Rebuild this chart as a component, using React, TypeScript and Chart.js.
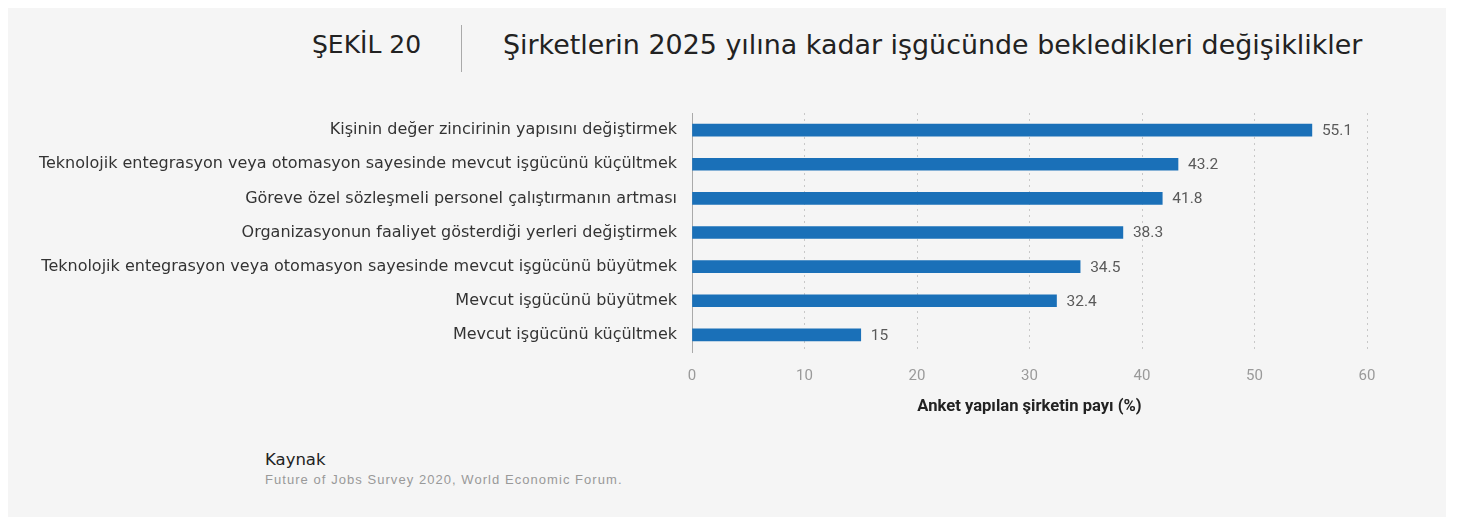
import React, { useEffect, useRef } from "react";
import { Chart, registerables } from "chart.js";

Chart.register(...registerables);

const categories: string[] = [
  "Kişinin değer zincirinin yapısını değiştirmek",
  "Teknolojik entegrasyon veya otomasyon sayesinde mevcut işgücünü küçültmek",
  "Göreve özel sözleşmeli personel çalıştırmanın artması",
  "Organizasyonun faaliyet gösterdiği yerleri değiştirmek",
  "Teknolojik entegrasyon veya otomasyon sayesinde mevcut işgücünü büyütmek",
  "Mevcut işgücünü büyütmek",
  "Mevcut işgücünü küçültmek",
];
const values: number[] = [55.1, 43.2, 41.8, 38.3, 34.5, 32.4, 15];
const xTicks: number[] = [0, 10, 20, 30, 40, 50, 60];
const axisTitle = "Anket yapılan şirketin payı (%)";
const figureLabel = "ŞEKİL 20";
const figureTitle = "Şirketlerin 2025 yılına kadar işgücünde bekledikleri değişiklikler";
const sourceHeading = "Kaynak";
const sourceText = "Future of Jobs Survey 2020, World Economic Forum.";

const CANVAS_LEFT = 14;
const CANVAS_TOP = 100;
const CANVAS_W = 1383;
const CANVAS_H = 330;

const valueLabelPlugin = {
  id: "valueLabels",
  afterDatasetsDraw(chart: any) {
    const ctx = chart.ctx;
    const meta = chart.getDatasetMeta(0);
    ctx.save();
    ctx.fillStyle = "#5a5a5a";
    ctx.font = "15.5px Roboto";
    ctx.textAlign = "left";
    ctx.textBaseline = "middle";
    meta.data.forEach((bar: any, i: number) => {
      ctx.fillText(String(values[i]), bar.x + 10, bar.y + 1);
    });
    ctx.restore();
  },
};

export default function App() {
  const ref = useRef<HTMLCanvasElement | null>(null);
  useEffect(() => {
    if (!ref.current) return;
    const chart = new Chart(ref.current, {
      type: "bar",
      data: {
        labels: categories,
        datasets: [
          {
            data: values,
            backgroundColor: "#1a70b8",
            borderWidth: 0,
            barThickness: 12,
          },
        ],
      },
      options: {
        indexAxis: "y",
        animation: false,
        responsive: false,
        maintainAspectRatio: false,
        layout: { padding: { left: 0, right: 30, top: 13, bottom: 0 } },
        plugins: { legend: { display: false }, tooltip: { enabled: false } },
        scales: {
          x: {
            min: 0,
            max: 60,
            afterBuildTicks: (scale: any) => {
              scale.ticks = xTicks.map((v) => ({ value: v }));
            },
            afterFit: (scale: any) => {
              scale.height = 78;
            },
            grid: {
              display: true,
              color: "#c8c8c8",
              lineWidth: 1,
              drawTicks: false,
            },
            border: { display: false, dash: [2, 4] },
            ticks: {
              color: "#9a9a9a",
              font: { family: "Roboto", size: 15 },
              padding: 15,
            },
            title: {
              display: true,
              text: axisTitle,
              color: "#222",
              font: { family: "Roboto", size: 16.6, weight: "bold" },
              padding: { top: 0, bottom: 13 },
            },
          },
          y: {
            afterFit: (scale: any) => {
              scale.width = 692 - CANVAS_LEFT;
              scale.paddingTop = 0;
              scale.paddingBottom = 0;
            },
            grid: { display: false, drawTicks: false },
            border: { display: true, color: "#aaa", width: 1 },
            ticks: {
              color: "#333",
              font: { family: "DejaVu Sans", size: 16 },
              padding: 15,
            },
          },
        },
      },
      plugins: [valueLabelPlugin],
    } as any);
    return () => chart.destroy();
  }, []);

  return (
    <div style={{ position: "relative", width: 1459, height: 531, margin: -8, background: "#fff", fontFamily: "'DejaVu Sans'" }}>
      <div style={{ position: "absolute", left: 6, top: 0, width: 1440, height: 517, background: "#f5f5f5" }} />
      <div style={{ position: "absolute", left: 312, top: 27, fontSize: 25, color: "#222", lineHeight: "36px", whiteSpace: "nowrap" }}>
        {figureLabel}
      </div>
      <div style={{ position: "absolute", left: 461, top: 25, width: 1, height: 47, background: "#aaa" }} />
      <div style={{ position: "absolute", left: 503, top: 27, fontSize: 26.9, color: "#222", lineHeight: "36px", whiteSpace: "nowrap" }}>
        {figureTitle}
      </div>
      <Canvas innerRef={ref} />
      <div style={{ position: "absolute", left: 265, top: 450, fontSize: 16.5, color: "#222", lineHeight: "20px" }}>
        {sourceHeading}
      </div>
      <div style={{ position: "absolute", left: 265, top: 471, fontSize: 13, letterSpacing: 1.05, color: "#999", fontFamily: "'Liberation Sans'", lineHeight: "18px" }}>
        {sourceText}
      </div>
    </div>
  );
}

function Canvas({ innerRef }: { innerRef: React.MutableRefObject<HTMLCanvasElement | null> }) {
  return (
    <canvas
      ref={innerRef}
      width={CANVAS_W}
      height={CANVAS_H}
      style={{ position: "absolute", left: CANVAS_LEFT, top: CANVAS_TOP, width: CANVAS_W, height: CANVAS_H }}
    />
  );
}
